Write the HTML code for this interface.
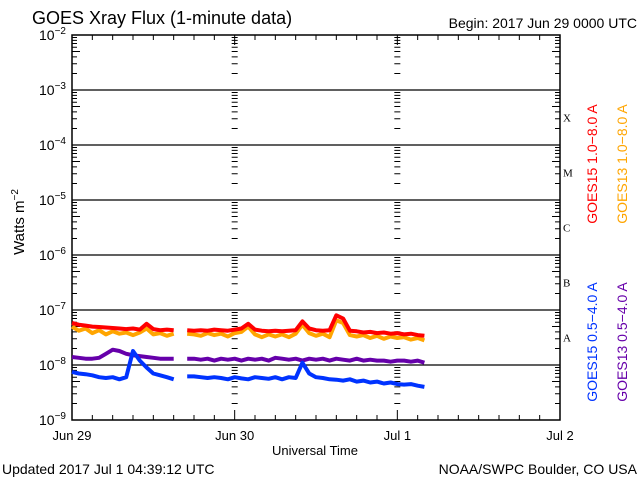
<!DOCTYPE html>
<html><head><meta charset="utf-8"><style>
body{margin:0;background:#fff}
svg{display:block;font-family:"Liberation Sans",sans-serif}
</style></head><body>
<svg id="c" width="640" height="480">
<text x="32" y="24" font-size="18">GOES Xray Flux (1-minute data)</text>
<text x="637" y="28" font-size="14" text-anchor="end">Begin:  2017 Jun 29 0000 UTC</text>
<text x="2" y="474" font-size="14">Updated 2017 Jul  1 04:39:12 UTC</text>
<text x="637" y="474" font-size="14" text-anchor="end">NOAA/SWPC Boulder, CO USA</text>
<text x="315" y="455" font-size="13" text-anchor="middle">Universal Time</text>
<text transform="translate(24,222) rotate(-90)" font-size="15" text-anchor="middle">Watts m<tspan dy="-6" font-size="10">−2</tspan></text>
<text transform="translate(597,164) rotate(-90)" font-size="14" fill="#ff0000" text-anchor="middle">GOES15 1.0−8.0 A</text>
<text transform="translate(627,164) rotate(-90)" font-size="14" fill="#ffa500" text-anchor="middle">GOES13 1.0−8.0 A</text>
<text transform="translate(597,342) rotate(-90)" font-size="14" fill="#0033ff" text-anchor="middle">GOES15 0.5−4.0 A</text>
<text transform="translate(627,342) rotate(-90)" font-size="14" fill="#6600aa" text-anchor="middle">GOES13 0.5−4.0 A</text>
<g id="axes"></g><g id="series"></g>
</svg>
<script>
const categories=[0,1,2,3,4,5,6,7,8,9,10,11,12,13,14,15,16,17,18,19,20,21,22,23,24,25,26,27,28,29,30,31,32,33,34,35,36,37,38,39,40,41,42,43,44,45,46,47,48,49,50,51,52];
const goes15Long=[5.8,5.4,5.2,5.0,4.9,4.8,4.7,4.6,4.5,4.6,4.4,5.6,4.5,4.3,4.4,4.3,null,4.3,4.2,4.3,4.2,4.4,4.3,4.2,4.4,4.6,5.6,4.4,4.2,4.1,4.2,4.1,4.2,4.3,6.2,4.6,4.3,4.2,4.3,8.0,7.0,4.2,4.1,3.9,4.0,3.8,3.9,3.7,3.8,3.6,3.7,3.5,3.4];
const goes13Long=[5.0,4.2,4.6,3.8,4.3,3.6,4.1,3.7,3.9,3.5,3.9,4.6,3.6,3.8,3.4,3.7,null,3.7,3.6,3.4,3.8,3.5,3.7,3.3,3.8,4.0,5.0,3.6,3.2,3.6,3.3,3.6,3.2,3.7,5.4,3.8,3.4,3.7,3.2,6.5,5.8,3.5,3.3,3.5,3.1,3.4,3.0,3.3,3.1,3.2,2.9,3.1,2.8];
const goes13Short=[1.4,1.35,1.3,1.3,1.35,1.6,1.9,1.8,1.6,1.5,1.45,1.4,1.35,1.3,1.3,1.3,null,1.3,1.3,1.25,1.3,1.2,1.3,1.25,1.3,1.2,1.3,1.25,1.3,1.2,1.35,1.3,1.25,1.3,1.2,1.3,1.25,1.3,1.2,1.3,1.25,1.2,1.3,1.2,1.25,1.2,1.2,1.15,1.2,1.2,1.15,1.2,1.1];
const goes15Short=[7.5,7,6.8,6.5,6,5.8,6,5.5,6,18,12,9,7,6.5,6,5.5,null,6.2,6.2,6,5.8,6,5.8,5.5,6,5.7,5.5,6,5.8,5.6,6,5.5,6,5.8,11,7,6,5.8,5.5,5.4,5.2,5.5,5,5.2,4.8,5,4.6,4.8,4.5,4.4,4.5,4.2,4.0];
const yExps=[-2,-3,-4,-5,-6,-7,-8,-9];
const xLabels=["Jun 29","Jun 30","Jul 1","Jul 2"];
const flareClasses=["X","M","C","B","A"];

const L=72,R=560,T=35,B=420;
const NS="http://www.w3.org/2000/svg";
function xS(h){return L+(R-L)*h/72;}
function yS(v){return T+(-2-Math.log10(v))*(B-T)/7;}
function mk(tag,attrs,parent){const e=document.createElementNS(NS,tag);for(const k in attrs)e.setAttribute(k,attrs[k]);parent.appendChild(e);return e;}
const ax=document.getElementById('axes');
let d="";
for(let e=-9;e<-2;e++){for(let m=2;m<=9;m++){const y=yS(m*Math.pow(10,e));const len=m===5?8:5;
 d+=`M${L},${y}h${len}M${R},${y}h${-len}`;
 for(let k=1;k<3;k++){const x=xS(24*k);d+=`M${x-3},${y}h6`;}
}}
for(let h=3;h<72;h+=3){const x=xS(h);const len=h%24===0?10:5;d+=`M${x},${T}v${len}M${x},${B}v${-len}`;}
const tk=mk('path',{d:d,stroke:'#000','stroke-width':1,fill:'none'},ax);


yExps.forEach((e,i)=>{const y=yS(Math.pow(10,e));
 if(e<-2&&e>-9){const g=mk('line',{x1:L,x2:R,y1:y,y2:y,stroke:'#000','stroke-width':1.3},ax);
 
 }
 const t=mk('text',{x:66,y:y+5,'font-size':14,'text-anchor':'end'},ax);
 
 
 t.innerHTML='10<tspan dy="-6" font-size="10">'+(e).toString().replace('-','−')+'</tspan>';
});
xLabels.forEach((s,i)=>{const t=mk('text',{x:xS(24*i),y:440,'font-size':13,'text-anchor':'middle'},ax);t.textContent=s;
 
 });
flareClasses.forEach((s,i)=>{const t=mk('text',{x:563,y:yS(Math.pow(10,-3.5-i))+4,'font-size':11,'font-family':'Liberation Serif, serif'},ax);t.textContent=s;
 
 });
const fr=mk('rect',{x:L,y:T,width:R-L,height:B-T,fill:'none',stroke:'#000','stroke-width':1.5},ax);


const sg=document.getElementById('series');
function draw(vals,scale,color,name){let p="",pen=false;
 vals.forEach((v,i)=>{if(v===null){pen=false;return;}const x=xS(categories[i]),y=yS(v*scale);p+=(pen?'L':'M')+x.toFixed(1)+','+y.toFixed(1);pen=true;});
 const el=mk('path',{d:p,stroke:color,'stroke-width':4,fill:'none','stroke-linejoin':'round'},sg);
 
 }
draw(goes13Long,1e-8,'#ffa500','series-goes13-long');
draw(goes15Long,1e-8,'#ff0000','series-goes15-long');
draw(goes13Short,1e-8,'#6600aa','series-goes13-short');
draw(goes15Short,1e-9,'#0033ff','series-goes15-short');
</script>
</body></html>
